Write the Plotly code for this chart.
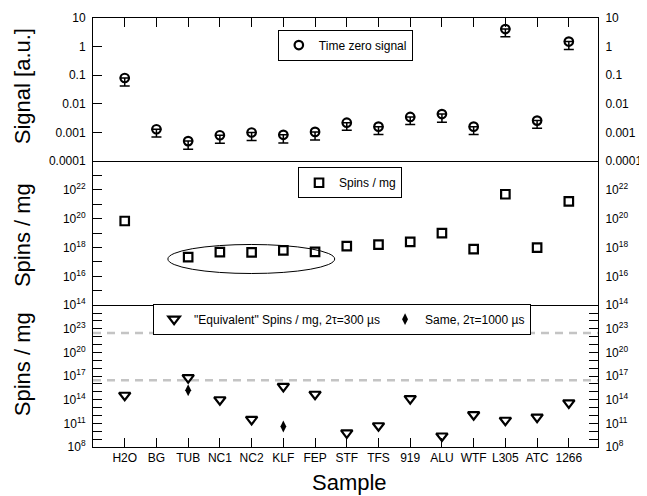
import plotly.graph_objects as go

# ---------------- data ----------------
samples = ["H2O", "BG", "TUB", "NC1", "NC2", "KLF", "FEP", "STF", "TFS", "919",
           "ALU", "WTF", "L305", "ATC", "1266"]
x_pos = list(range(len(samples)))

signal = [0.08, 0.0013, 0.0005, 0.0008, 0.001, 0.00083, 0.00105, 0.0022, 0.0016,
          0.0035, 0.0044, 0.0016, 4.1, 0.0026, 1.5]
signal_err_minus = [0.038, 0.0006, 0.00024, 0.00038, 0.00047, 0.0004, 0.0005, 0.001,
                    0.00075, 0.0016, 0.0021, 0.00075, 1.9, 0.0012, 0.7]
signal_err_plus = [0] * len(samples)

spins = [7e19, None, 2.2e17, 4.8e17, 4.6e17, 6.3e17, 5e17, 1.26e18, 1.6e18, 2.5e18,
         1e19, 7.9e17, 5e21, 1e18, 1.6e21]

equiv_300 = [3.7e14, None, 6.3e16, 1e14, 3.2e11, 5e15, 5e14, 6.3e9, 5e10, 1.4e14,
             2.5e9, 1.26e12, 2.5e11, 6.3e11, 4e13]
equiv_1000 = [None, None, 1.6e15, None, None, 4e10, None, None, None, None,
              None, None, None, None, None]

ref_levels = [3e22, 3e16]

top_ticks = [1e-4, 1e-3, 1e-2, 1e-1, 1, 10]
top_ticktext = ["0.0001", "0.001", "0.01", "0.1", "1", "10"]
mid_exps = list(range(14, 24))
bot_exps = list(range(8, 26))

XR = [-1, 14.92]
FONT = "Liberation Sans, Arial, Helvetica, sans-serif"

mid_tickvals = [10.0 ** e for e in mid_exps]
mid_ticktext = [f"10<sup>{e}</sup>" if e % 2 == 0 else "" for e in mid_exps]
bot_tickvals = [10.0 ** e for e in bot_exps]
bot_ticktext = [f"10<sup>{e}</sup>" if (e - 8) % 3 == 0 else "" for e in bot_exps]

fig = go.Figure()

# top panel: time zero signal
fig.add_trace(go.Scatter(
    x=x_pos, y=signal, mode="markers", name="Time zero signal",
    xaxis="x3", yaxis="y3", legend="legend",
    marker=dict(symbol="circle-open", size=8.5, color="black", line=dict(width=2.2, color="black")),
    error_y=dict(type="data", symmetric=False, array=signal_err_plus,
                 arrayminus=signal_err_minus, color="black", thickness=1.5, width=5),
))

# middle panel: spins / mg
fig.add_trace(go.Scatter(
    x=x_pos, y=spins, mode="markers", name="Spins / mg",
    xaxis="x2", yaxis="y2", legend="legend2",
    marker=dict(symbol="square-open", size=8.5, color="black", line=dict(width=2.2, color="black")),
))

# bottom panel reference dashed lines
for lvl in ref_levels:
    fig.add_trace(go.Scatter(
        x=XR, y=[lvl, lvl], mode="lines", showlegend=False, hoverinfo="skip",
        xaxis="x", yaxis="y",
        line=dict(color="#c4c4c4", width=2.5, dash="8px,6px"),
    ))

fig.add_trace(go.Scatter(
    x=x_pos, y=equiv_300, mode="markers",
    name="\"Equivalent\" Spins / mg, 2\u03c4=300 \u00b5s",
    xaxis="x", yaxis="y", legend="legend3",
    marker=dict(symbol="triangle-down-open", size=10, color="black", line=dict(width=2.2, color="black")),
))
fig.add_trace(go.Scatter(
    x=x_pos, y=equiv_1000, mode="markers",
    name="Same, 2\u03c4=1000 \u00b5s",
    xaxis="x", yaxis="y", legend="legend3",
    marker=dict(symbol="diamond-tall", size=8.5, color="black", line=dict(width=0)),
))

# invisible traces so right-hand axes are drawn
for ax in ["y4", "y5", "y6"]:
    fig.add_trace(go.Scatter(x=[None], y=[None], xaxis="x", yaxis=ax,
                             showlegend=False, hoverinfo="skip"))

common_axis = dict(showline=True, linecolor="black", linewidth=1, mirror=True,
                   showgrid=False, zeroline=False, tickcolor="black", tickwidth=1,
                   automargin=False,
                   tickfont=dict(family=FONT, size=12, color="black"))

D_BOT = [0, 0.3305]
D_MID = [0.3305, 0.6664]
D_TOP = [0.6664, 1]

yleft = dict(ticks="inside", ticklen=9, ticklabelstandoff=4, **common_axis)

legend_common = dict(xanchor="left", yanchor="middle", bordercolor="black",
                     borderwidth=1, bgcolor="white", font=dict(family=FONT, size=12),
                     itemwidth=30)

fig.update_layout(
    width=639, height=488,
    margin=dict(l=85, r=49, t=10, b=49, autoexpand=False),
    paper_bgcolor="white", plot_bgcolor="white",
    font=dict(family=FONT, size=12, color="black"),
    showlegend=True,
    xaxis=dict(anchor="y", domain=[0, 1], range=XR, tickmode="array", tickvals=x_pos,
               ticktext=samples, ticks="inside", ticklen=9, **common_axis),
    xaxis2=dict(anchor="y2", domain=[0, 1], range=XR, ticks="", showticklabels=False,
                **common_axis),
    xaxis3=dict(anchor="y3", domain=[0, 1], range=XR, side="top", tickmode="array",
                tickvals=x_pos, ticks="inside", ticklen=9, showticklabels=False,
                **common_axis),
    yaxis=dict(anchor="x", domain=D_BOT, type="log", range=[8, 26], tickmode="array",
               tickvals=bot_tickvals, ticktext=bot_ticktext, **yleft),
    yaxis2=dict(anchor="x2", domain=D_MID, type="log", range=[14, 24], tickmode="array",
                tickvals=mid_tickvals, ticktext=mid_ticktext, **yleft),
    yaxis3=dict(anchor="x3", domain=D_TOP, type="log", range=[-4, 1], tickmode="array",
                tickvals=top_ticks, ticktext=top_ticktext, **yleft),
    yaxis4=dict(overlaying="y", side="right", anchor="x", type="log", range=[8, 26],
                tickmode="array", tickvals=bot_tickvals, ticktext=bot_ticktext, **yleft),
    yaxis5=dict(overlaying="y2", side="right", anchor="x2", type="log", range=[14, 24],
                tickmode="array", tickvals=mid_tickvals, ticktext=mid_ticktext, **yleft),
    yaxis6=dict(overlaying="y3", side="right", anchor="x3", type="log", range=[-4, 1],
                tickmode="array", tickvals=top_ticks, ticktext=top_ticktext, **yleft),
    legend=dict(x=0.366, y=0.937, **legend_common),
    legend2=dict(x=0.406, y=0.616, **legend_common),
    legend3=dict(x=0.119, y=0.298, orientation="h", **legend_common),
)

# ellipse highlighting group in middle panel
fig.add_shape(type="circle", xref="x2", yref="y2 domain", x0=1.36, x1=6.62,
              y0=0.22, y1=0.4215, line=dict(color="black", width=1))

# axis titles
title_font = dict(family=FONT, size=22, color="black")
fig.add_annotation(text="Signal [a.u.]", xref="paper", yref="paper", x=-0.1406, y=0.841,
                   textangle=-90, showarrow=False, font=title_font,
                   xanchor="center", yanchor="middle")
fig.add_annotation(text="Spins / mg", xref="paper", yref="paper", x=-0.1406, y=0.494,
                   textangle=-90, showarrow=False, font=title_font,
                   xanchor="center", yanchor="middle")
fig.add_annotation(text="Spins / mg", xref="paper", yref="paper", x=-0.1406, y=0.193,
                   textangle=-90, showarrow=False, font=title_font,
                   xanchor="center", yanchor="middle")
fig.add_annotation(text="Sample", xref="paper", yref="paper", x=0.507, y=-0.0823,
                   showarrow=False, font=title_font, xanchor="center", yanchor="middle")

fig.write_html("out.html")
